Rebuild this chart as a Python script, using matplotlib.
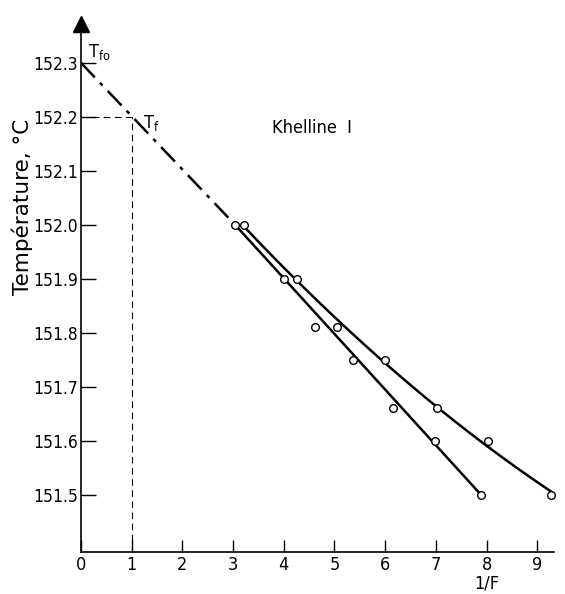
import numpy as np
import matplotlib
matplotlib.use("Agg")
import matplotlib.pyplot as plt

plt.rcParams['font.family'] = ['DejaVu Sans']
plt.rcParams['font.stretch'] = 'condensed'
plt.rcParams['mathtext.fontset'] = 'custom'
plt.rcParams['mathtext.rm'] = 'DejaVu Sans:stretch=condensed'

# data
inv_f_a = [3.04, 4.01, 4.62, 5.36, 6.15, 6.98, 7.89]
temp_a = [152.0, 151.9, 151.81, 151.75, 151.66, 151.60, 151.5]
inv_f_b = [3.21, 4.27, 5.04, 6.0, 7.02, 8.02, 9.28]
temp_b = [152.0, 151.9, 151.81, 151.75, 151.66, 151.60, 151.5]
t_fo = 152.3
t_f = 152.2
x_ticks = [0, 1, 2, 3, 4, 5, 6, 7, 8, 9]
y_ticks = [151.5, 151.6, 151.7, 151.8, 151.9, 152.0, 152.1, 152.2, 152.3]

fig = plt.figure(figsize=(5.65, 5.94), dpi=100)
ax = fig.add_axes([81/565, 42/594, (554-81)/565, (570-42)/594])
ax.set_xlim(0, 9.33)
ax.set_ylim(151.394, 152.372)

# extrapolation line to T_fo
ax.plot([0, inv_f_a[0]], [t_fo, temp_a[0]], color='k', lw=1.8,
        linestyle=(0, (8, 3, 1.5, 3)))
# T_f guide lines
ax.plot([0, 1], [t_f, t_f], color='k', lw=0.8, linestyle=(0, (6, 4)))
ax.plot([1, 1], [151.394, t_f], color='k', lw=0.8, linestyle=(0, (6, 4)))

# lower (straight) curve
xa = np.array(inv_f_a)
ya = np.array(temp_a)
ax.plot(xa[[0, -1]], ya[[0, -1]], color='k', lw=1.8)

# upper curve, smooth fit
xb = np.array(inv_f_b)
yb = np.array(temp_b)
c = np.polyfit(xb, yb, 2)
xs = np.linspace(xb[0], xb[-1], 100)
ax.plot(xs, np.polyval(c, xs), color='k', lw=1.8)

ax.plot(xa, ya, 'o', ms=5.5, mfc='white', mec='k', mew=1, clip_on=False)
ax.plot(xb, yb, 'o', ms=5.5, mfc='white', mec='k', mew=1, clip_on=False)

ax.text(0.13, 152.31, r'$\mathrm{T_{fo}}$', fontsize=13, va='baseline')
ax.text(1.22, 152.18, r'$\mathrm{T_{f}}$', fontsize=13, va='baseline')
ax.text(3.76, 152.17, 'Khelline  I', fontsize=13, va='baseline')

for s in ['top', 'right']:
    ax.spines[s].set_visible(False)
ax.spines['left'].set_linewidth(1.2)
ax.spines['bottom'].set_linewidth(1.2)
ax.plot(1, 0, '>k', ms=11, transform=ax.get_yaxis_transform(), clip_on=False)
ax.plot(0, 1, '^k', ms=11, transform=ax.get_xaxis_transform(), clip_on=False)

ax.set_xticks(x_ticks)
ax.set_xticklabels([str(v) for v in x_ticks])
ax.set_yticks(y_ticks)
ax.set_yticklabels(['%.1f' % v for v in y_ticks])
ax.tick_params(axis='y', direction='in', length=11, width=1, pad=2, labelsize=12.5)
ax.tick_params(axis='x', direction='in', length=9, width=1, pad=3, labelsize=13)

fig.text(22/565, 1-207/594, 'Température, °C', rotation=90, ha='center',
         va='center', fontsize=15.5, fontstretch='normal')
fig.text(487/565, 1-583/594, '1/F', ha='center', va='center', fontsize=13)

fig.savefig('out.png', dpi=100)
